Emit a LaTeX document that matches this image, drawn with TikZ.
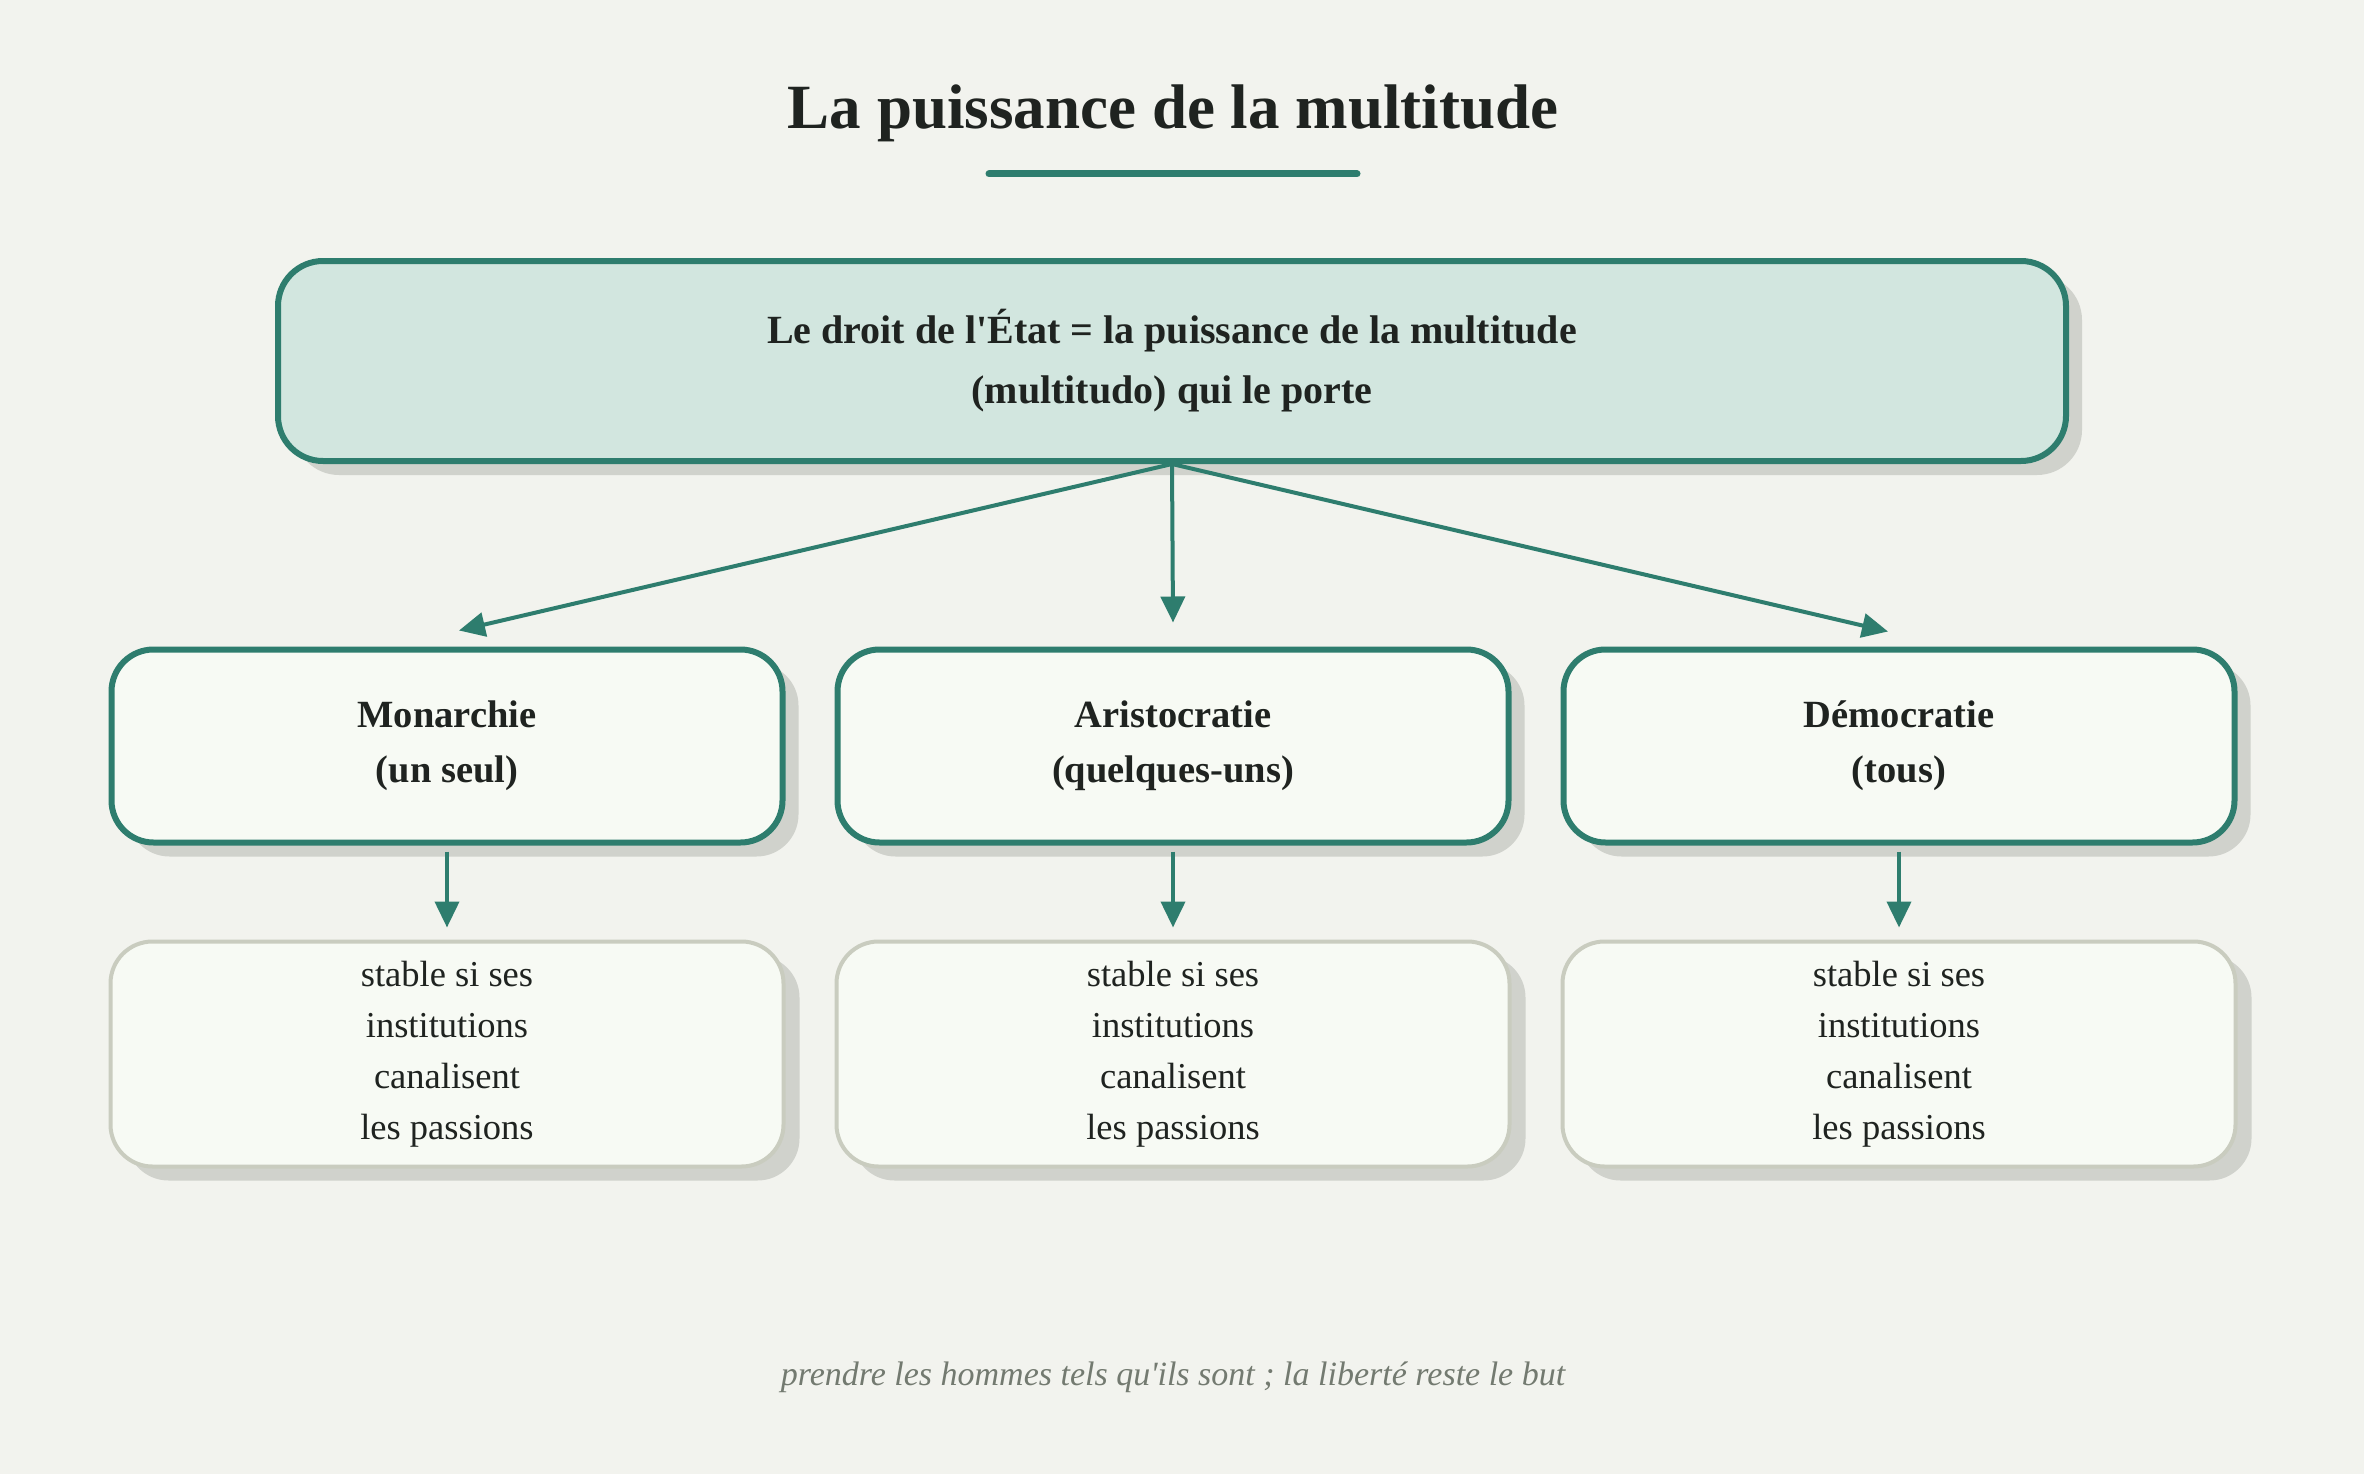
\documentclass[tikz,border=0pt]{standalone}
\usepackage{fontspec}
\setmainfont{Liberation Serif}[Ligatures=TeXOff]
\usetikzlibrary{arrows.meta,shadows,calc}
\definecolor{bg}{HTML}{F2F3EE}
\definecolor{teal}{HTML}{2E7D6E}
\definecolor{topfill}{HTML}{D2E6DF}
\definecolor{boxfill}{HTML}{F7FAF4}
\definecolor{shade}{HTML}{D0D2CC}
\definecolor{greyline}{HTML}{C9CCBF}
\definecolor{ink}{HTML}{1F2320}
\definecolor{foot}{HTML}{737A70}
\tikzset{
  x=1pt, y=-1pt,
  shadowed/.style={drop shadow={shadow xshift=16pt, shadow yshift=-14pt, fill=shade, opacity=1}},
  topbox/.style={draw=teal, line width=6pt, fill=topfill, rounded corners=45pt, shadowed,
    minimum width=1788pt, minimum height=200pt, inner sep=0pt, align=center, text=ink,
    font=\fontsize{40}{60}\selectfont\bfseries},
  midbox/.style={draw=teal, line width=6pt, fill=boxfill, rounded corners=42pt, shadowed,
    minimum width=671pt, minimum height=193pt, inner sep=0pt, align=center, text=ink,
    font=\fontsize{38.5}{55}\selectfont\bfseries},
  lowbox/.style={draw=greyline, line width=4pt, fill=boxfill, rounded corners=42pt, shadowed,
    minimum width=673pt, minimum height=225pt, inner sep=0pt, align=center, text=ink,
    font=\fontsize{36.5}{51}\selectfont},
  arr/.style={draw=teal, line width=4pt, -{Triangle[length=26pt,width=24pt]}}
}
\begin{document}
\begin{tikzpicture}
\fill[bg] (0,0) rectangle (2364,1474);
\useasboundingbox (0,0) rectangle (2364,1474);

\node[text=ink, font=\fontsize{63}{66}\selectfont\bfseries] (title) at (1173,113) {La puissance de la multitude};
\draw[teal, line width=7pt, line cap=round] (989,174) -- (1357,174);

\node[topbox] (top) at (1172,361) {Le droit de l'État = la puissance de la multitude\\(multitudo) qui le porte};

\node[midbox] (m1) at (447,746) {Monarchie\\(un seul)};
\node[midbox] (m2) at (1173,746) {Aristocratie\\(quelques-uns)};
\node[midbox] (m3) at (1899,746) {Démocratie\\(tous)};

\node[lowbox] (b1) at (447,1054) {stable si ses\\institutions\\canalisent\\les passions};
\node[lowbox] (b2) at (1173,1054) {stable si ses\\institutions\\canalisent\\les passions};
\node[lowbox] (b3) at (1899,1054) {stable si ses\\institutions\\canalisent\\les passions};

\draw[arr] (top.south) -- ([xshift=12pt,yshift=16pt]m1.north);
\draw[arr] (top.south) -- ([yshift=24pt]m2.north);
\draw[arr] (top.south) -- ([xshift=-11pt,yshift=15pt]m3.north);

\draw[arr, shorten <=6pt, shorten >=12pt] (m1.south) -- (b1.north);
\draw[arr, shorten <=6pt, shorten >=12pt] (m2.south) -- (b2.north);
\draw[arr, shorten <=6pt, shorten >=12pt] (m3.south) -- (b3.north);

\node[text=foot, font=\fontsize{34}{38}\selectfont\itshape] (footer) at (1173,1377) {prendre les hommes tels qu'ils sont ; la liberté reste le but};
\end{tikzpicture}
\end{document}
